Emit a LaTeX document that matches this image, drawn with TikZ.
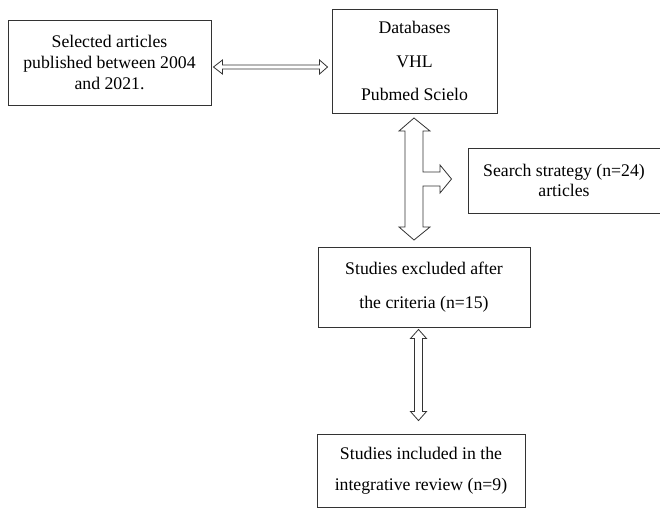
\documentclass[tikz,border=0pt]{standalone}
\usepackage{fontspec}
\setmainfont{Liberation Serif}
\usetikzlibrary{calc}
\begin{document}
\begin{tikzpicture}[x=0.75pt,y=-0.75pt,
  box/.style={draw=black!80,line width=0.7pt,inner sep=0pt,align=center},
  arr/.style={draw=black!80,line width=0.6pt,fill=white,line join=miter}]
\useasboundingbox (0,0) rectangle (660,519);
% boxes
\node[box,minimum width=203*0.75pt,minimum height=85*0.75pt,
  font=\fontsize{13.3}{16}\selectfont] (sel) at (109.5,62.5)
  {\raisebox{6pt}{\parbox{145pt}{\centering Selected articles\\published between 2004\\and 2021.}}};
\node[box,minimum width=165*0.75pt,minimum height=104*0.75pt,
  font=\fontsize{13.3}{25}\selectfont] (db) at (414.5,61)
  {Databases\\VHL\\Pubmed Scielo};
\node[box,minimum width=192*0.75pt,minimum height=65*0.75pt,
  font=\fontsize{13.3}{15.5}\selectfont] (ss) at (564,180.5)
  {\raisebox{4.5pt}{\parbox{140pt}{\centering Search strategy (n=24)\\articles}}};
\node[box,minimum width=212*0.75pt,minimum height=80*0.75pt,
  font=\fontsize{13.3}{25.5}\selectfont] (ex) at (424,287)
  {\raisebox{7pt}{\parbox{150pt}{\centering Studies excluded after\\the criteria (n=15)}}};
\node[box,minimum width=208*0.75pt,minimum height=73*0.75pt,
  font=\fontsize{13.3}{23.5}\selectfont] (in) at (421,470.5)
  {\raisebox{3pt}{\parbox{150pt}{\centering Studies included in the\\integrative review (n=9)}}};
% horizontal double arrow between sel and db
\coordinate (hL) at ($(sel.east)+(2,4.5)$);
\coordinate (hR) at ($(db.west)+(-4,6)$);
\draw[arr] (hL) -- ++(9,-7) -- ++(0,5) -- ($(hR)+(-8,-2)$) -- ++(0,-5) -- (hR)
  -- ++(-8,7) -- ++(0,-5) -- ($(hL)+(9,2)$) -- ++(0,5) -- cycle;
% T-shaped arrow from db to ex with branch to ss
\coordinate (vT) at (414,118);
\coordinate (vB) at (414,240);
\coordinate (vR) at ($(ss.west)+(-16,-1.5)$);
\draw[arr] (vT) -- (430,131) -- (423,131) -- (423,172) -- (440,172) -- (440,165)
  -- (vR) -- (440,193) -- (440,186) -- (423,186) -- (423,227) -- (430,227)
  -- (vB) -- (399,227) -- (405,227) -- (405,131) -- (399,131) -- cycle;
% vertical double arrow between ex and in
\coordinate (wT) at ($(ex.south)+(-5.5,2)$);
\coordinate (wB) at ($(in.north)+(-2.5,-13)$);
\draw[arr] (wT) -- ++(8,9) -- ++(-4,0) -- ($(wB)+(4,-9)$) -- ++(4,0) -- (wB)
  -- ++(-8,-9) -- ++(4,0) -- ($(wT)+(-4,9)$) -- ++(-4,0) -- cycle;
\end{tikzpicture}
\end{document}
